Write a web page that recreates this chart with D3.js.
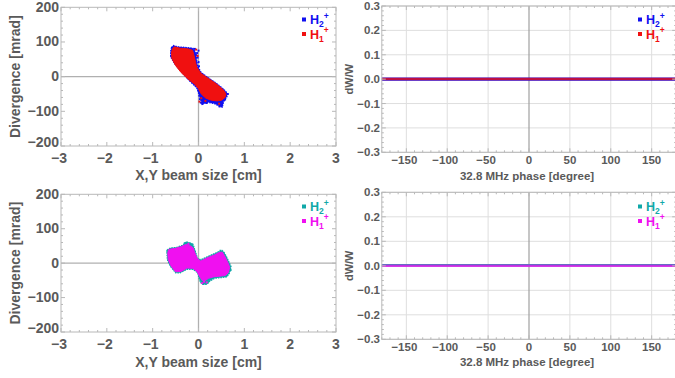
<!DOCTYPE html>
<html>
<head>
<meta charset="utf-8">
<script src="https://cdn.jsdelivr.net/npm/d3@7/dist/d3.min.js"></script>
<style>
  html, body { margin: 0; padding: 0; background: #fff; }
  svg { display: block; font-family: "Liberation Sans", Arial, sans-serif; }
</style>
</head>
<body>
<svg id="chart" width="675" height="378"></svg>
<script>
// ---- Phase-space outlines (x [cm], divergence [mrad]) ----
// Upper plot: H2+ (blue) envelope and H1+ (red) core
const phaseH2Top = [[-0.59,84],[-0.55,90],[-0.45,86],[-0.25,84],[-0.12,82],[-0.06,70],[-0.04,50],[-0.02,30],[0.06,12],[0.2,-2],[0.38,-18],[0.55,-36],[0.63,-48],[0.62,-58],[0.55,-72],[0.52,-88],[0.45,-85],[0.35,-78],[0.2,-74],[0.08,-80],[0.03,-60],[-0.04,-32],[-0.2,-12],[-0.38,15],[-0.52,37],[-0.6,55],[-0.61,72]];
const phaseH1Top = [[-0.57,80],[-0.53,86],[-0.4,82],[-0.22,80],[-0.13,76],[-0.1,62],[-0.07,45],[-0.04,28],[0.05,10],[0.2,-4],[0.38,-20],[0.54,-38],[0.6,-50],[0.58,-60],[0.5,-68],[0.4,-70],[0.28,-68],[0.16,-62],[0.06,-50],[0.0,-35],[-0.08,-22],[-0.22,-8],[-0.38,12],[-0.5,32],[-0.58,52],[-0.59,68]];
const strayH2Top = [[0.0,75],[-0.03,68],[-0.02,55],[0.0,42],[0.01,30],[0.03,-65],[0.05,-75],[0.08,-78],[0.12,-72],[0.46,-86],[0.5,-84],[-0.6,60],[0.64,-50],[0.02,-55],[-0.05,62],[0.1,-70],[-0.08,80],[0.02,-45],[0.18,-76],[0.58,-66]];
const strayH1Top = [[0.02,-72],[0.15,-70],[-0.05,78],[0.45,-78],[-0.02,60],[0.06,-62]];

// Lower plot: H2+ (teal) envelope and H1+ (magenta) core
const phaseH2Bot = [[-0.69,30],[-0.67,40],[-0.62,44],[-0.47,46],[-0.35,52],[-0.28,60],[-0.18,58],[-0.12,55],[-0.07,35],[-0.02,14],[0.05,10],[0.18,18],[0.35,28],[0.45,34],[0.52,37],[0.6,22],[0.66,5],[0.71,-10],[0.68,-28],[0.62,-40],[0.5,-42],[0.35,-44],[0.25,-52],[0.18,-62],[0.1,-62],[0.03,-52],[-0.02,-28],[-0.12,-18],[-0.25,-18],[-0.4,-28],[-0.5,-28],[-0.62,-8],[-0.68,10]];
const phaseH1Bot = [[-0.67,30],[-0.65,40],[-0.5,43],[-0.38,48],[-0.28,54],[-0.2,52],[-0.12,45],[-0.08,30],[-0.02,12],[0.05,6],[0.18,15],[0.35,24],[0.45,31],[0.52,32],[0.58,18],[0.64,2],[0.68,-12],[0.65,-28],[0.58,-36],[0.45,-38],[0.32,-40],[0.22,-44],[0.15,-50],[0.08,-50],[0.03,-40],[-0.03,-25],[-0.12,-15],[-0.25,-14],[-0.38,-24],[-0.5,-25],[-0.6,-8],[-0.66,10]];
const strayH2Bot = [[0.1,-60],[0.15,-58],[0.2,-55],[0.12,-50],[-0.2,58],[-0.25,60],[-0.15,55],[0.48,36],[0.55,30],[0.0,-20],[-0.02,-5],[0.06,-56],[0.22,-50],[-0.3,58],[0.7,-20],[-0.68,36]];
const strayH1Bot = [[0.08,-58],[0.18,-56],[-0.22,56],[0.12,-54]];

// ---- Energy spread dW/W vs 32.8 MHz phase: band limits at sample phases ----
const phaseDeg = [-180, -120, -60, 0, 60, 120, 180];
const dwH2TopLo = [-0.007, -0.007, -0.007, -0.007, -0.007, -0.007, -0.007];
const dwH2TopHi = [0.007, 0.007, 0.007, 0.007, 0.007, 0.007, 0.007];
const dwH1TopLo = [-0.005, -0.005, -0.005, -0.005, -0.005, -0.005, -0.005];
const dwH1TopHi = [0.006, 0.006, 0.006, 0.006, 0.006, 0.006, 0.006];
const dwH2BotLo = [-0.003, -0.003, -0.003, -0.003, -0.003, -0.003, -0.003];
const dwH2BotHi = [0.007, 0.007, 0.007, 0.007, 0.007, 0.007, 0.007];
const dwH1BotLo = [-0.005, -0.005, -0.005, -0.005, -0.005, -0.005, -0.005];
const dwH1BotHi = [0.005, 0.005, 0.005, 0.005, 0.005, 0.005, 0.005];

// ---- Axis ticks ----
const xTicksLeft = [-3, -2, -1, 0, 1, 2, 3];
const yTicksLeft = [-200, -100, 0, 100, 200];
const xTicksRight = [-150, -100, -50, 0, 50, 100, 150];
const yTicksRight = [-0.3, -0.2, -0.1, 0.0, 0.1, 0.2, 0.3];

const colors = {
  blue: "#1010f0", red: "#f01010", teal: "#10a8a8", magenta: "#f010f0"
};
const textCol = "#5a5a5a";
const frameCol = "#b8b8b8";

const svg = d3.select("#chart");

function fmtLeft(d) { return d < 0 ? "\u2212" + Math.abs(d) : String(d); }
function fmtRightY(d) { return d < 0 ? "\u2212" + Math.abs(d).toFixed(1) : d.toFixed(1); }
function fmtRightX(d) { return d < 0 ? "\u2212" + Math.abs(d) : String(d); }

function frame(g, x, y, opts) {
  const [x0, x1] = x.range(), [y0, y1] = y.range();
  // minor + major tick marks on all four sides, pointing inward
  const minorX = d3.range(x.domain()[0], x.domain()[1] + 1e-9, opts.minorX);
  const minorY = d3.range(y.domain()[0], y.domain()[1] + 1e-9, opts.minorY);
  const tk = g.append("g").attr("stroke", frameCol).attr("stroke-width", 1);
  minorX.forEach(v => {
    const px = x(v);
    if (px < 0 || px > 675) return;
    const isMaj = opts.xTicks.some(t => Math.abs(t - v) < 1e-6);
    const L = isMaj ? 4 : 2;
    tk.append("line").attr("x1", px).attr("x2", px).attr("y1", y0).attr("y2", y0 - L);
    tk.append("line").attr("x1", px).attr("x2", px).attr("y1", y1).attr("y2", y1 + L);
  });
  minorY.forEach(v => {
    const py = y(v);
    const isMaj = opts.yTicks.some(t => Math.abs(t - v) < 1e-6);
    const L = isMaj ? 4 : 2;
    tk.append("line").attr("x1", x0).attr("x2", x0 + L).attr("y1", py).attr("y2", py);
    tk.append("line").attr("x1", x1).attr("x2", x1 - L).attr("y1", py).attr("y2", py);
  });
  g.append("rect").attr("x", x0).attr("y", y1).attr("width", x1 - x0).attr("height", y0 - y1)
    .attr("fill", "none").attr("stroke", frameCol).attr("stroke-width", 1);
}

function legend(g, x, y, c1, c2, fs) {
  [[c1, "2", 0], [c2, "1", 14.5]].forEach(([c, sub, dy]) => {
    g.append("rect").attr("x", x - 2).attr("y", y + dy - 6.5).attr("width", 4).attr("height", 4).attr("fill", c);
    const t = g.append("text").attr("x", x + 6).attr("y", y + dy)
      .attr("fill", c).attr("font-size", fs).attr("font-weight", "bold");
    t.append("tspan").text("H");
    t.append("tspan").attr("dy", 3).attr("font-size", fs * 0.68).text(sub);
    t.append("tspan").attr("dy", -8.5).attr("font-size", fs * 0.68).text("+");
  });
}

function leftPanel(top, bottom, env, core, strayA, strayB, cA, cB, labelY, legendY) {
  const x = d3.scaleLinear().domain([-3, 3]).range([61, 336]);
  const y = d3.scaleLinear().domain([-200, 200]).range([bottom, top]);
  const g = svg.append("g");
  // zero axes
  g.append("line").attr("x1", x(0)).attr("x2", x(0)).attr("y1", y(-200)).attr("y2", y(200))
    .attr("stroke", "#b0b0b0").attr("stroke-width", 1.3);
  g.append("line").attr("x1", x(-3)).attr("x2", x(3)).attr("y1", y(0)).attr("y2", y(0))
    .attr("stroke", "#b0b0b0").attr("stroke-width", 1.3);
  const line = d3.line().x(d => x(d[0])).y(d => y(d[1])).curve(d3.curveLinearClosed);
  g.append("path").attr("d", line(env)).attr("fill", cA).attr("stroke", cA).attr("stroke-width", 1.2)
    .attr("stroke-dasharray", "1.5,1");
  g.append("g").selectAll("rect").data(strayA).join("rect")
    .attr("x", d => x(d[0]) - 1).attr("y", d => y(d[1]) - 1).attr("width", 2).attr("height", 2).attr("fill", cA);
  g.append("path").attr("d", line(core)).attr("fill", cB).attr("stroke", cB).attr("stroke-width", 1);
  g.append("g").selectAll("rect").data(strayB).join("rect")
    .attr("x", d => x(d[0]) - 1).attr("y", d => y(d[1]) - 1).attr("width", 2).attr("height", 2).attr("fill", cB);
  frame(g, x, y, { minorX: 0.2, minorY: 20, xTicks: xTicksLeft, yTicks: yTicksLeft });
  // tick labels; the lowest y label is nudged up to clear the x labels below it
  g.append("g").selectAll("text").data(xTicksLeft).join("text")
    .attr("x", d => x(d) - (d < 0 ? 2 : 0)).attr("y", bottom + 16.5).attr("text-anchor", "middle")
    .attr("font-size", 14).attr("font-weight", "bold").attr("fill", textCol).text(fmtLeft);
  g.append("g").selectAll("text").data(yTicksLeft).join("text")
    .attr("x", 59).attr("y", d => y(d) + 4.5 - (d === -200 ? 4 : 0)).attr("text-anchor", "end")
    .attr("font-size", 14).attr("font-weight", "bold").attr("fill", textCol).text(fmtLeft);
  g.append("text").attr("x", 198.5).attr("y", labelY).attr("text-anchor", "middle")
    .attr("font-size", 14).attr("font-weight", "bold").attr("fill", textCol).text("X,Y beam size [cm]");
  g.append("text").attr("transform", `translate(20,${y(0)}) rotate(-90)`).attr("text-anchor", "middle")
    .attr("font-size", 14).attr("font-weight", "bold").attr("fill", textCol).text("Divergence [mrad]");
  legend(g, 304, legendY, cA, cB, 12.5);
}

function rightPanel(top, bottom, lo2, hi2, lo1, hi1, cA, cB, labelY, legendY) {
  const x = d3.scaleLinear().domain([-180, 180]).range([381.8, 676.2]);
  const y = d3.scaleLinear().domain([-0.3, 0.3]).range([bottom, top]);
  const g = svg.append("g");
  // grid
  g.append("g").selectAll("line").data(xTicksRight.filter(d => d !== 0)).join("line")
    .attr("x1", d => x(d)).attr("x2", d => x(d)).attr("y1", top).attr("y2", bottom)
    .attr("stroke", "#dedede").attr("stroke-width", 1);
  g.append("g").selectAll("line").data(yTicksRight).join("line")
    .attr("x1", x(-180)).attr("x2", x(180)).attr("y1", d => y(d)).attr("y2", d => y(d))
    .attr("stroke", "#dedede").attr("stroke-width", 1);
  g.append("line").attr("x1", x(0)).attr("x2", x(0)).attr("y1", top).attr("y2", bottom)
    .attr("stroke", "#a0a0a0").attr("stroke-width", 1.2);
  const area2 = d3.area().x((d, i) => x(phaseDeg[i])).y0((d, i) => y(lo2[i])).y1((d, i) => y(hi2[i]));
  const area1 = d3.area().x((d, i) => x(phaseDeg[i])).y0((d, i) => y(lo1[i])).y1((d, i) => y(hi1[i]));
  g.append("path").attr("d", area2(phaseDeg)).attr("fill", cA);
  g.append("path").attr("d", area1(phaseDeg)).attr("fill", cB).attr("opacity", 0.78);
  frame(g, x, y, { minorX: 10, minorY: 0.02, xTicks: xTicksRight, yTicks: yTicksRight });
  g.append("g").selectAll("text").data(xTicksRight).join("text")
    .attr("x", d => x(d) - (d < 0 ? 2 : 0)).attr("y", bottom + 12).attr("text-anchor", "middle")
    .attr("font-size", 11.5).attr("font-weight", "bold").attr("fill", textCol).text(fmtRightX);
  g.append("g").selectAll("text").data(yTicksRight).join("text")
    .attr("x", 380).attr("y", d => y(d) + 4).attr("text-anchor", "end")
    .attr("font-size", 11.5).attr("font-weight", "bold").attr("fill", textCol).text(fmtRightY);
  g.append("text").attr("x", 527).attr("y", labelY).attr("text-anchor", "middle")
    .attr("font-size", 11.5).attr("font-weight", "bold").attr("fill", textCol).text("32.8 MHz phase [degree]");
  g.append("text").attr("transform", `translate(353,${y(0)}) rotate(-90)`).attr("text-anchor", "middle")
    .attr("font-size", 11).attr("font-weight", "bold").attr("fill", textCol).text("dW/W");
  legend(g, 640, legendY, cA, cB, 12.5);
}

leftPanel(7.3, 146, phaseH2Top, phaseH1Top, strayH2Top, strayH1Top, colors.blue, colors.red, 179.5, 24);
leftPanel(194.3, 332, phaseH2Bot, phaseH1Bot, strayH2Bot, strayH1Bot, colors.teal, colors.magenta, 366.5, 211);
rightPanel(6, 152.3, dwH2TopLo, dwH2TopHi, dwH1TopLo, dwH1TopHi, colors.blue, colors.red, 180, 24);
rightPanel(192.3, 339.3, dwH2BotLo, dwH2BotHi, dwH1BotLo, dwH1BotHi, colors.teal, colors.magenta, 366, 211);
</script>
</body>
</html>
